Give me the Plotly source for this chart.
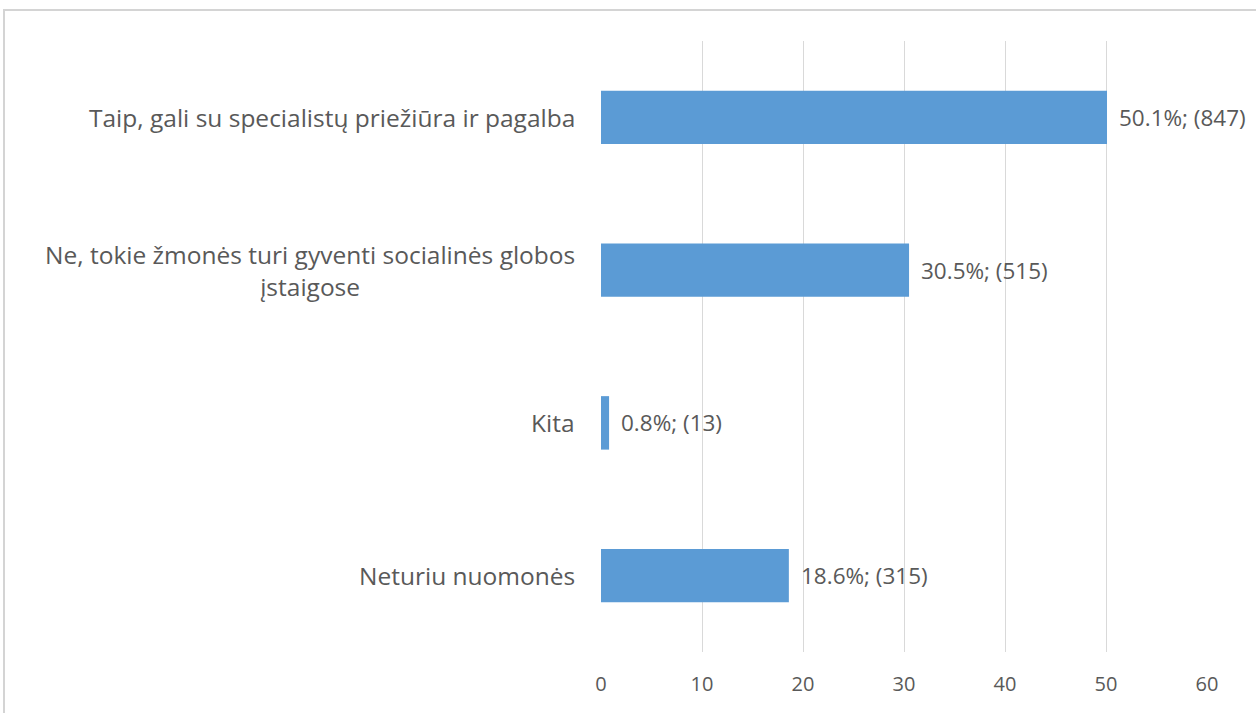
import plotly.graph_objects as go

# Survey answers (top to bottom) with share in % and number of respondents
categories = [
    "Taip, gali su specialistų priežiūra ir pagalba",
    "Ne, tokie žmonės turi gyventi socialinės globos<br>įstaigose",
    "Kita",
    "Neturiu nuomonės",
]
percents = [50.1, 30.5, 0.8, 18.6]
counts = [847, 515, 13, 315]
x_ticks = [0, 10, 20, 30, 40, 50, 60]

TEXT = "#595959"
FONT = "Open Sans"

fig = go.Figure(
    go.Bar(
        x=percents,
        y=categories,
        orientation="h",
        marker=dict(color="#5B9BD5", line=dict(width=0)),
        hoverinfo="skip",
    )
)

# Value labels to the right of each bar
for cat, p, n in zip(categories, percents, counts):
    fig.add_annotation(
        x=p, y=cat, xref="x", yref="y",
        text=f"{p}%; ({n})",
        showarrow=False, xanchor="left", xshift=10,
        font=dict(family=FONT, size=22.5, color=TEXT),
    )

# Category labels, wrapped lines centred, right edge aligned to the axis
for cat in categories:
    fig.add_annotation(
        x=0, y=cat, xref="x", yref="y",
        text=cat,
        showarrow=False, xanchor="right", xshift=-24, align="center",
        font=dict(family=FONT, size=24.5, color=TEXT),
    )

# Light frame around the chart area
fig.add_shape(
    type="rect", xref="paper", yref="paper",
    xsizemode="pixel", ysizemode="pixel",
    xanchor=0, yanchor=1,
    x0=-597, x1=700, y0=-720, y1=31,
    line=dict(color="#D4D4D4", width=2), fillcolor="rgba(0,0,0,0)",
    layer="below",
)

fig.update_layout(
    width=1256, height=713,
    margin=dict(l=601, r=49, t=41, b=61),
    paper_bgcolor="white", plot_bgcolor="white",
    showlegend=False,
    bargap=0.65,
    font=dict(family=FONT, color=TEXT),
)
fig.update_xaxes(
    range=[0, 60], tickvals=x_ticks,
    showgrid=True, gridcolor="#D9D9D9", gridwidth=1,
    zeroline=False, showline=False,
    ticks="outside", ticklen=14, tickcolor="rgba(0,0,0,0)",
    tickfont=dict(family=FONT, size=20, color=TEXT),
    fixedrange=True,
)
fig.update_yaxes(
    categoryorder="array", categoryarray=categories[::-1],
    showticklabels=False, showgrid=False, zeroline=False, showline=False,
    fixedrange=True,
)

fig.write_html("out.html", config={"displayModeBar": False})
